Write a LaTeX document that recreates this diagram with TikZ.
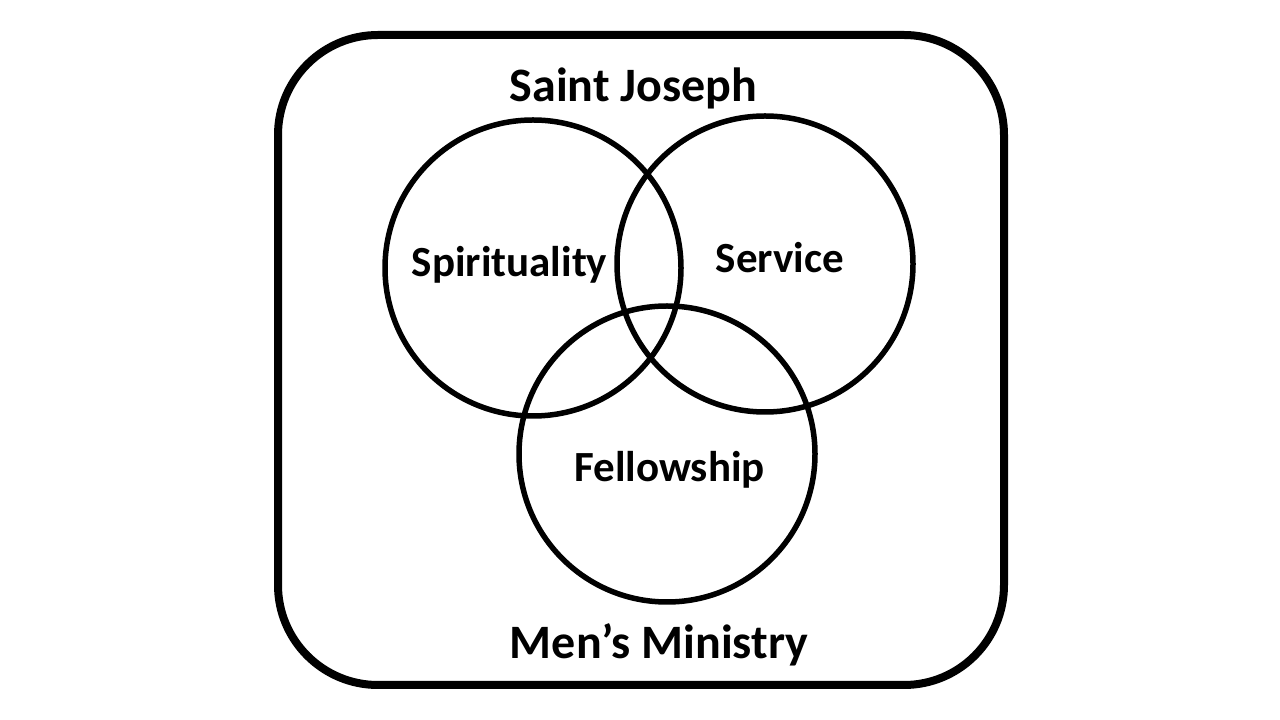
\documentclass[tikz,border=0pt]{standalone}
\usepackage{fontspec}
\setmainfont{Carlito}
\begin{document}
\begin{tikzpicture}[x=1pt, y=1pt,
  venn/.style={draw, circle, line width=5.5pt, minimum size=296pt, inner sep=0pt},
  big/.style={anchor=base, inner sep=0pt, font=\fontsize{48}{56}\selectfont\bfseries},
  small/.style={anchor=base, inner sep=0pt, font=\fontsize{43}{50}\selectfont\bfseries}]

\def \frameradius {100pt}

\useasboundingbox (0,0) rectangle (1280,720);
\draw[line width=8pt, rounded corners=\frameradius] (278,35) rectangle (1004,685);

% the three sets
\foreach \name/\x/\y in {spirit/533/452, service/765/456, fellow/667/266}
{
  \node[venn] (\name) at (\x,\y) {};
}

\node[big] (title) at (633.5,618) {Saint Joseph};
\node[big] (ministry) at (659,61) {Men’s Ministry};
\node[small] (spiritlabel) at (509.5,443) {Spirituality};
\node[small] (servicelabel) at (780,447) {Service};
\node[small] (fellowlabel) at (669.5,238) {Fellowship};
\end{tikzpicture}
\end{document}
